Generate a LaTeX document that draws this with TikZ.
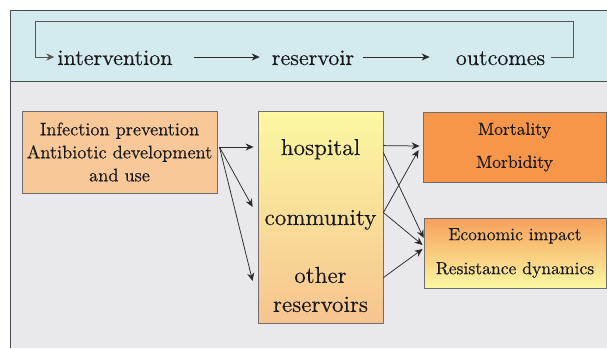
\documentclass[tikz,border=0pt]{standalone}
\usepackage{fontspec}
\setmainfont{lmroman10-regular.otf}[FakeBold=0.3]
\usetikzlibrary{arrows.meta,calc}
\definecolor{bandc}{HTML}{D3EBEF}
\definecolor{bgc}{HTML}{E9E9ED}
\definecolor{peach}{HTML}{F8C899}
\definecolor{lyellow}{HTML}{FBF8A2}
\definecolor{lorange}{HTML}{F7C48F}
\definecolor{orangec}{HTML}{F79548}
\definecolor{edgec}{HTML}{6E6E6E}
\definecolor{txt}{HTML}{1A1A1A}
\definecolor{linec}{HTML}{2A2A2A}
\begin{document}
\begin{tikzpicture}[x=1pt,y=-1pt,
  box/.style={draw=edgec, line width=0.8pt, inner sep=0pt, text=txt, align=center},
  conn/.style={draw=linec, line width=0.75pt, -{Stealth[length=8pt,width=7pt]}},
  toplbl/.style={font=\fontsize{22}{28}\selectfont, text=txt, inner sep=0pt, text height=16pt, text depth=0pt, anchor=base},
  midlbl/.style={font=\fontsize{23}{29}\selectfont, text=txt, inner sep=0pt, align=center}]
\useasboundingbox (0,0) rectangle (607,348);
\fill[white] (0,0) rectangle (607,348);
\fill[bgc] (10,81) rectangle (607,348);
\fill[bandc] (10,10) rectangle (607,81);
\draw[edgec!70!black, line width=0.8pt] (607,10) -- (10,10) -- (10,348);
\draw[edgec!70!black, line width=0.8pt] (10,81) -- (607,81);

% top cycle
\node[toplbl] (interv) at (115,65) {intervention};
\node[toplbl] (reserv) at (313,65) {reservoir};
\node[toplbl] (outc) at (500.5,65) {outcomes};
\draw[conn, shorten <=21pt, shorten >=12pt] (interv.east) -- (reserv.west);
\draw[conn, shorten <=9pt, shorten >=26pt] (reserv.east) -- (outc.west);
\coordinate (loopNE) at (573,21);
\coordinate (loopNW) at (35,21);
\draw[conn, draw=linec!80, shorten <=6pt, shorten >=3pt] (outc.east) -| (loopNE) -- (loopNW) |- (interv.west);

% boxes
\node[box, fill=peach, minimum width=195pt, minimum height=82pt,
      font=\fontsize{18.2}{23}\selectfont] (interventions) at (119.5,152)
      {Infection prevention\\Antibiotic development\\and use};
\node[box, minimum width=125pt, minimum height=212pt, top color=lyellow, bottom color=lorange] (midbox) at (320.5,217) {};
\node[midlbl, anchor=base] (hosp) at (320.5,155) {hospital};
\node[midlbl, anchor=base] (comm) at (320.5,225) {community};
\node[midlbl] (other) at (320.5,289.5) {other\\reservoirs};

\node[box, fill=orangec, minimum width=183pt, minimum height=70pt,
      font=\fontsize{17.6}{33}\selectfont] (mort) at (514.5,147) {Mortality\\Morbidity};
\node[box, minimum width=182pt, minimum height=70pt, top color=orangec!90!white, bottom color=lyellow,
      font=\fontsize{17.6}{34}\selectfont] (econ) at (515,253) {Economic impact\\Resistance dynamics};

% connectors left
\coordinate (src) at ($(interventions.east)+(2,-5)$);
\draw[conn] (src) -- ($(midbox.west)+(-4,-70)$);
\draw[conn] (src) -- ($(midbox.west)+(-5,-10)$);
\draw[conn] (src) -- ($(midbox.west)+(-5,64)$);

% connectors right
\draw[conn] ($(midbox.north east)+(0,35)$) -- ($(mort.west)+(-3,-1)$);
\draw[conn] ($(midbox.north east)+(0,42)$) -- ($(econ.west)+(0,-15)$);
\draw[conn] ($(midbox.north east)+(0,102)$) -- ($(mort.west)+(-4,3)$);
\draw[conn] ($(midbox.north east)+(0,102)$) -- ($(econ.west)+(-1,-8)$);
\draw[conn] ($(midbox.north east)+(0,167)$) -- ($(econ.west)+(-1,-4)$);
\end{tikzpicture}
\end{document}
